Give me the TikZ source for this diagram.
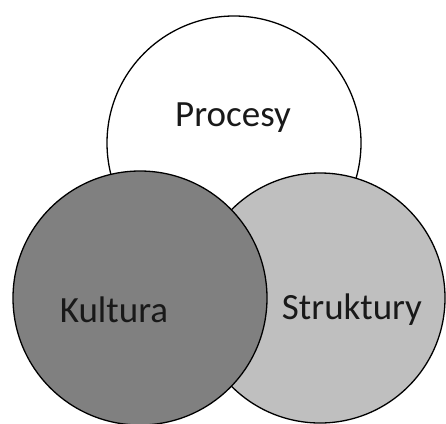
\documentclass[tikz,border=0pt]{standalone}
\usepackage{fontspec}
\setmainfont{Carlito}
\usepackage{tikz}

\tikzset{
  kolo/.style={circle, draw=black, line width=1.3pt, minimum size=254pt, inner sep=0pt},
  napis/.style={font=\fontsize{37}{40}\selectfont, text=black!90, inner sep=0pt}
}

\begin{document}
\begin{tikzpicture}[x=1pt,y=-1pt]
    \clip (0,0) rectangle (446,423) ;
    \draw (234,143) node [kolo, fill=white] (procesy) {} ;
    \draw (320,298) node [kolo, fill=black!25, minimum size=250pt] (struktury) {} ;
    \draw (140,298) node [kolo, fill=black!50] (kultura) {} ;
    \draw (233,118) node [napis] (tprocesy) { Procesy } ;
    \draw (114,310) node [napis] (tkultura) { Kultura } ;
    \draw (352,310) node [napis] (tstruktury) { Struktury } ;
  \end{tikzpicture}
\end{document}
